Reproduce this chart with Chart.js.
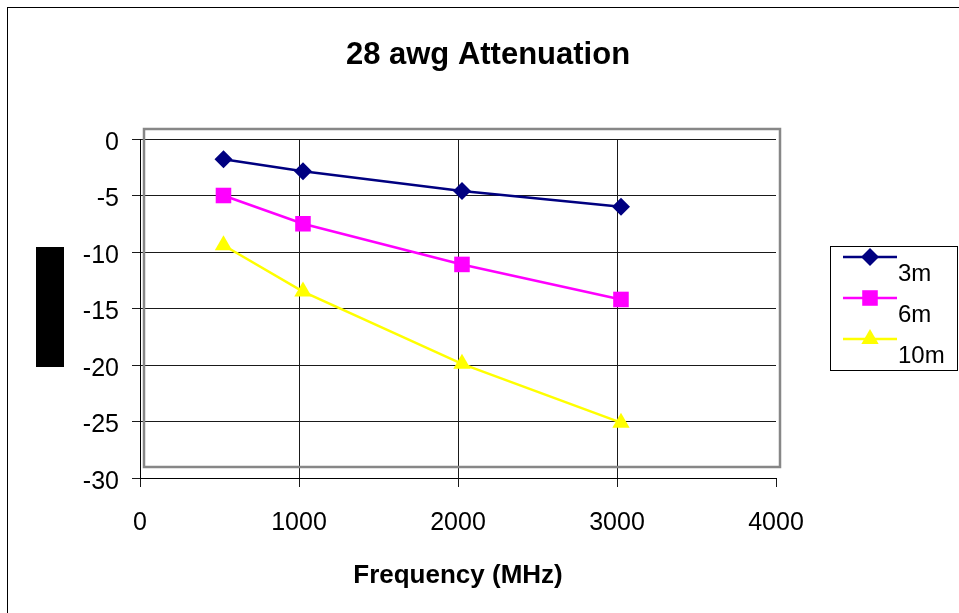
<!DOCTYPE html>
<html>
<head>
<meta charset="utf-8">
<script src="https://cdn.jsdelivr.net/npm/chart.js@4/dist/chart.umd.min.js"></script>
<style>
html,body{margin:0;padding:0;background:#fff;}
canvas{display:block;}
</style>
</head>
<body>
<canvas id="c" width="959" height="613"></canvas>
<script>
// ---- data ----
const chartTitle = "28 awg Attenuation";
const xAxisTitle = "Frequency (MHz)";
const seriesNames = ["3m", "6m", "10m"];
const freq3m = [525, 1025, 2025, 3025];
const freq6m = [525, 1025, 2025, 3025];
const freq10m = [525, 1025, 2025, 3025];
const atten3m = [-1.8, -2.85, -4.6, -6.0];
const atten6m = [-5.0, -7.5, -11.1, -14.2];
const atten10m = [-9.4, -13.5, -19.9, -25.1];
const xTicks = [0, 1000, 2000, 3000, 4000];
const yTicks = [0, -5, -10, -15, -20, -25, -30];

const FONT = "'Liberation Sans', Arial, sans-serif";

function pts(xs, ys) { return xs.map((x, i) => ({x: x, y: ys[i]})); }

const styles = [
  {color: '#000080', pointStyle: 'rectRot', radius: 9},
  {color: '#FF00FF', pointStyle: 'rect', radius: 11},
  {color: '#FFFF00', pointStyle: 'triangle', radius: 10}
];
const seriesData = [pts(freq3m, atten3m), pts(freq6m, atten6m), pts(freq10m, atten10m)];

const datasets = seriesNames.map((name, i) => ({
  label: name,
  data: seriesData[i],
  borderColor: styles[i].color,
  backgroundColor: styles[i].color,
  borderWidth: 2.5,
  pointStyle: styles[i].pointStyle,
  pointRadius: styles[i].radius,
  pointHoverRadius: styles[i].radius,
  pointBorderWidth: 0,
  tension: 0
}));

const decorPlugin = {
  id: 'decor',
  beforeDraw(chart) {
    const ctx = chart.ctx;
    ctx.save();
    ctx.fillStyle = '#fff';
    ctx.fillRect(0, 0, chart.width, chart.height);
    ctx.restore();
  },
  beforeDatasetsDraw(chart) {
    const ctx = chart.ctx, a = chart.chartArea;
    ctx.save();
    ctx.strokeStyle = '#878787';
    ctx.lineWidth = 2.5;
    ctx.strokeRect(a.left + 4, a.top - 10, a.right - a.left, a.bottom - a.top - 1);
    ctx.restore();
  },
  afterDraw(chart) {
    const ctx = chart.ctx;
    ctx.save();
    // chart title
    ctx.fillStyle = '#000';
    ctx.font = 'bold 31px ' + FONT;
    ctx.textAlign = 'center';
    ctx.textBaseline = 'middle';
    ctx.fillText(chartTitle, 488, 55);
    // outer border
    ctx.strokeStyle = '#000';
    ctx.lineWidth = 1;
    ctx.strokeRect(7.5, 7.5, 2000, 2000);
    // y-axis title (blacked out)
    ctx.fillStyle = '#000';
    ctx.fillRect(36, 247, 28, 120);
    // legend
    const lx = 830, ly = 246, lw = 127, lh = 124;
    ctx.fillStyle = '#fff';
    ctx.fillRect(lx, ly, lw, lh);
    ctx.strokeStyle = '#000';
    ctx.lineWidth = 1;
    ctx.strokeRect(lx + 0.5, ly + 0.5, lw, lh);
    chart.data.datasets.forEach((ds, i) => {
      const y = 257 + i * 41;
      ctx.strokeStyle = ds.borderColor;
      ctx.lineWidth = 2.5;
      ctx.beginPath();
      ctx.moveTo(843, y);
      ctx.lineTo(897, y);
      ctx.stroke();
      ctx.fillStyle = ds.backgroundColor;
      Chart.helpers.drawPoint(ctx, {pointStyle: ds.pointStyle, rotation: 0, borderWidth: 0, radius: ds.pointRadius}, 870, y);
      ctx.fillStyle = '#000';
      ctx.font = '24px ' + FONT;
      ctx.textAlign = 'left';
      ctx.textBaseline = 'alphabetic';
      ctx.fillText(ds.label, 898, y + 24);
    });
    ctx.restore();
  }
};

new Chart(document.getElementById('c'), {
  type: 'line',
  data: {datasets: datasets},
  plugins: [decorPlugin],
  options: {
    responsive: false,
    animation: false,
    devicePixelRatio: 1,
    layout: {padding: {left: 0, right: 183, top: 139, bottom: 0}},
    plugins: {
      legend: {display: false},
      tooltip: {enabled: false},
      title: {display: false}
    },
    scales: {
      x: {
        type: 'linear',
        min: 0, max: 4000,
        afterBuildTicks(scale) { scale.ticks = xTicks.map(v => ({value: v})); },
        afterFit(scale) { scale.height = 135; },
        ticks: {
          color: '#000',
          font: {family: FONT, size: 25},
          padding: 21,
          maxRotation: 0,
          callback: v => String(v)
        },
        grid: {
          color: c => (c.tick && (c.tick.value === 0 || c.tick.value === 4000)) ? 'rgba(0,0,0,0)' : '#1a1a1a',
          tickColor: '#1a1a1a',
          tickLength: 9,
          lineWidth: 1
        },
        border: {display: true, color: '#000', width: 1},
        title: {
          display: true,
          text: xAxisTitle,
          color: '#000',
          font: {family: FONT, size: 26, weight: 'bold', lineHeight: 1.2},
          padding: {top: 0, bottom: 22}
        }
      },
      y: {
        type: 'linear',
        min: -30, max: 0,
        afterBuildTicks(scale) { scale.ticks = yTicks.slice().reverse().map(v => ({value: v})); },
        afterFit(scale) { scale.width = 140; },
        ticks: {
          color: '#000',
          font: {family: FONT, size: 25},
          padding: 13,
          labelOffset: 4,
          callback: v => String(v)
        },
        grid: {
          color: '#1a1a1a',
          tickColor: '#1a1a1a',
          tickLength: 8,
          lineWidth: 1
        },
        border: {display: true, color: '#000', width: 1}
      }
    }
  }
});
</script>
</body>
</html>
